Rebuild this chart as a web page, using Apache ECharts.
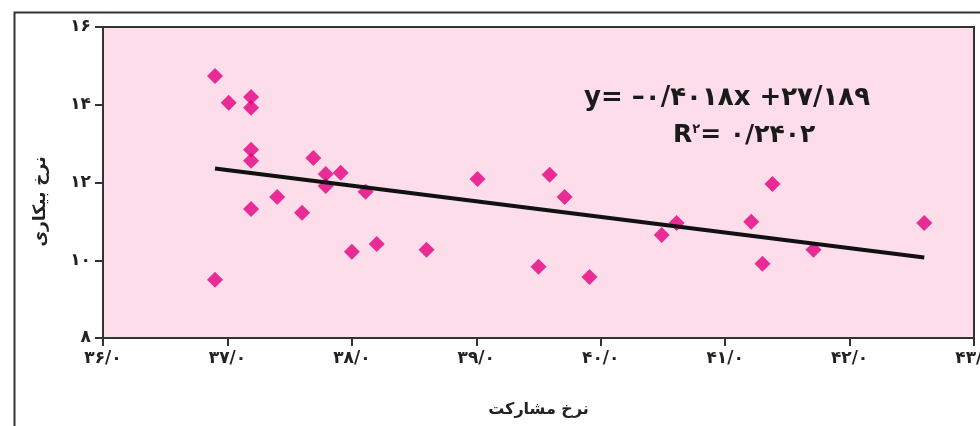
<!DOCTYPE html>
<html>
<head>
<meta charset="utf-8">
<script src="https://cdn.jsdelivr.net/npm/echarts@6/dist/echarts.min.js"></script>
<style>
html,body{margin:0;padding:0;background:#fff;}
#chart{width:980px;height:426px;}
</style>
</head>
<body>
<div id="chart"></div>
<script>
// Data
const participation = [36.90, 37.01, 37.19, 37.19, 37.19, 37.19, 37.19, 36.90, 37.40, 37.60, 37.69, 37.79, 37.91, 37.79, 38.11, 38.00, 38.20, 38.60, 39.01, 39.59, 39.71, 39.50, 39.91, 40.49, 40.61, 41.21, 41.30, 41.38, 41.71, 42.60];
const unemployment = [14.74, 14.05, 14.20, 13.92, 12.84, 12.56, 11.32, 9.50, 11.63, 11.22, 12.63, 12.22, 12.25, 11.91, 11.76, 10.22, 10.42, 10.27, 12.09, 12.20, 11.63, 9.83, 9.57, 10.65, 10.96, 10.99, 9.91, 11.96, 10.27, 10.96];
const trendSlope = -0.4018;
const trendIntercept = 27.189;
const trendX = [36.9, 42.6];
const xTicks = [36, 37, 38, 39, 40, 41, 42, 43];
const yTicks = [8, 10, 12, 14, 16];
const xTitle = 'نرخ مشارکت';
const yTitle = 'نرخ بیکاری';
const eqLine1 = 'y= –۰/۴۰۱۸x +۲۷/۱۸۹';
const eqLine2R = 'R';
const eqLine2Sup = '۲';
const eqLine2Rest = '= ۰/۲۴۰۲';

const fa = s => String(s).replace(/[0-9]/g, d => '۰۱۲۳۴۵۶۷۸۹'[+d]);
const points = participation.map((x, i) => [x, unemployment[i]]);
const trend = trendX.map(x => [x, trendSlope * x + trendIntercept]);

const chart = echarts.init(document.getElementById('chart'));
const fontFam = '"DejaVu Sans", "Noto Sans", sans-serif';
chart.setOption({
  animation: false,
  backgroundColor: '#fff',
  grid: { left: 103, top: 27, right: 6, bottom: 88, outerBoundsMode: 'none', containLabel: false,
    show: true, backgroundColor: '#fcdde9', borderColor: '#333', borderWidth: 2 },
  xAxis: {
    type: 'value', min: 36, max: 43, interval: 1,
    name: xTitle, nameLocation: 'middle', nameGap: 64,
    nameTextStyle: { fontFamily: fontFam, fontSize: 16, fontWeight: 'bold', color: '#222' },
    axisLine: { show: true, lineStyle: { color: '#333', width: 2 } },
    axisTick: { show: true, length: 8, lineStyle: { color: '#333', width: 2 } },
    splitLine: { show: false },
    axisLabel: { margin: 12, fontFamily: fontFam, fontSize: 17, fontWeight: 'bold', color: '#222',
      formatter: v => xTicks.includes(v) ? fa(v) + '/' + fa(0) : '' }
  },
  yAxis: {
    type: 'value', min: 8, max: 16, interval: 2,
    name: yTitle, nameLocation: 'middle', nameGap: 54, nameRotate: 90,
    nameTextStyle: { fontFamily: fontFam, fontSize: 17, fontWeight: 'bold', color: '#222', padding: [0, 38, 0, 0] },
    axisLine: { show: true, lineStyle: { color: '#333', width: 2 } },
    axisTick: { show: true, length: 8, lineStyle: { color: '#333', width: 2 } },
    splitLine: { show: false },
    axisLabel: { margin: 12, fontFamily: fontFam, fontSize: 17, fontWeight: 'bold', color: '#222',
      formatter: v => yTicks.includes(v) ? fa(v) : '' }
  },
  series: [
    { type: 'scatter', data: points, symbol: 'diamond', symbolSize: 16,
      itemStyle: { color: '#e4007f' }, z: 3 },
    { type: 'line', data: trend, symbol: 'none', lineStyle: { color: '#111', width: 4 }, z: 4 }
  ],
  graphic: [
    { type: 'rect', left: 12, top: 10, shape: { width: 1000, height: 500 }, silent: true, z: -10,
      style: { fill: 'none', stroke: '#333', lineWidth: 2 } },
    { type: 'text', left: 584, top: 85, z: 10,
      style: { text: eqLine1, fontFamily: fontFam, fontSize: 26, fontWeight: 'bold', fill: '#1a1a1a' } },
    { type: 'text', left: 673, top: 123, z: 10,
      style: { text: '{r|' + eqLine2R + '}{s|' + eqLine2Sup + '}{r|' + eqLine2Rest + '}',
        rich: {
          r: { fontFamily: fontFam, fontSize: 25, fontWeight: 'bold', fill: '#1a1a1a', verticalAlign: 'bottom' },
          s: { fontFamily: fontFam, fontSize: 13, fontWeight: 'bold', fill: '#1a1a1a', verticalAlign: 'top' }
        } } }
  ]
});
</script>
</body>
</html>
